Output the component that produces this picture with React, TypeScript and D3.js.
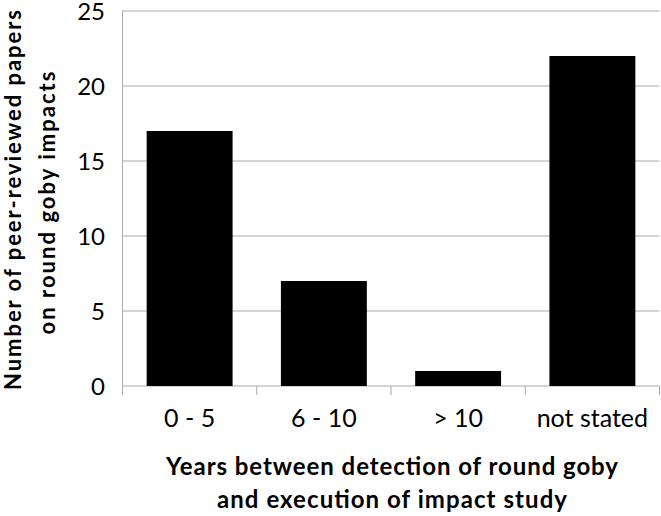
import React from "react";
import * as d3 from "d3";

const categories = ["0 - 5", "6 - 10", "> 10", "not stated"];
const values = [17, 7, 1, 22];
const yTicks = [0, 5, 10, 15, 20, 25];
const yTitle = ["Number of peer-reviewed papers", "on round goby impacts"];
const xTitle = ["Years between detection of round goby", "and execution of impact study"];

const W = 661;
const H = 516;
const left = 122.5;
const right = 659.5;
const top = 11;
const bottom = 386;
const font = "Lato, 'Open Sans', sans-serif";
const grid = "#a9a9a9";

export default function App() {
  const x = d3.scaleBand<string>().domain(categories).range([left, right]).paddingInner(0.36).paddingOuter(0.18);
  const y = d3.scaleLinear().domain([0, 25]).range([bottom, top]);
  const band = d3.scaleBand<string>().domain(categories).range([left, right]);
  const xTitleLen = [452, 350];
  const yTitleLen = [380, 263];
  return (
    <svg width={W} height={H} style={{ position: "absolute", left: 0, top: 0, background: "#fff" }}>
      {yTicks.map((t) => (
        <g key={t}>
          <line x1={left} x2={right} y1={y(t)} y2={y(t)} stroke={grid} strokeWidth={1} />
          <text x={105} y={y(t)} dy="0.36em" textAnchor="end" fontFamily={font} fontSize={24} fill="#000">
            {t}
          </text>
        </g>
      ))}
      <line x1={left} x2={left} y1={top} y2={bottom} stroke={grid} strokeWidth={1} />
      {categories.map((c) => (
        <line key={"t" + c} x1={(band(c) as number) + band.bandwidth()} x2={(band(c) as number) + band.bandwidth()} y1={bottom} y2={bottom + 9} stroke={grid} strokeWidth={1} />
      ))}
      <line x1={left} x2={left} y1={bottom} y2={bottom + 9} stroke={grid} strokeWidth={1} />
      {categories.map((c, i) => (
        <rect key={c} x={x(c)} y={y(values[i])} width={x.bandwidth()} height={bottom - y(values[i])} fill="#000" />
      ))}
      {categories.map((c) => (
        <text key={"l" + c} x={(band(c) as number) + band.bandwidth() / 2} y={427} textAnchor="middle" fontFamily={font} fontSize={25} fill="#000">
          {c}
        </text>
      ))}
      {xTitle.map((s, i) => (
        <text key={s} x={392} y={475 + i * 33} textAnchor="middle" fontFamily={font} fontWeight="bold" fontSize={24} fill="#000" textLength={xTitleLen[i]}>
          {s}
        </text>
      ))}
      {yTitle.map((s, i) => (
        <text key={s} transform={`translate(${20.5 + i * 34.5},${i === 0 ? 200 : 203}) rotate(-90)`} textAnchor="middle" fontFamily={font} fontWeight="bold" fontSize={22} fill="#000" textLength={yTitleLen[i]}>
          {s}
        </text>
      ))}
    </svg>
  );
}
